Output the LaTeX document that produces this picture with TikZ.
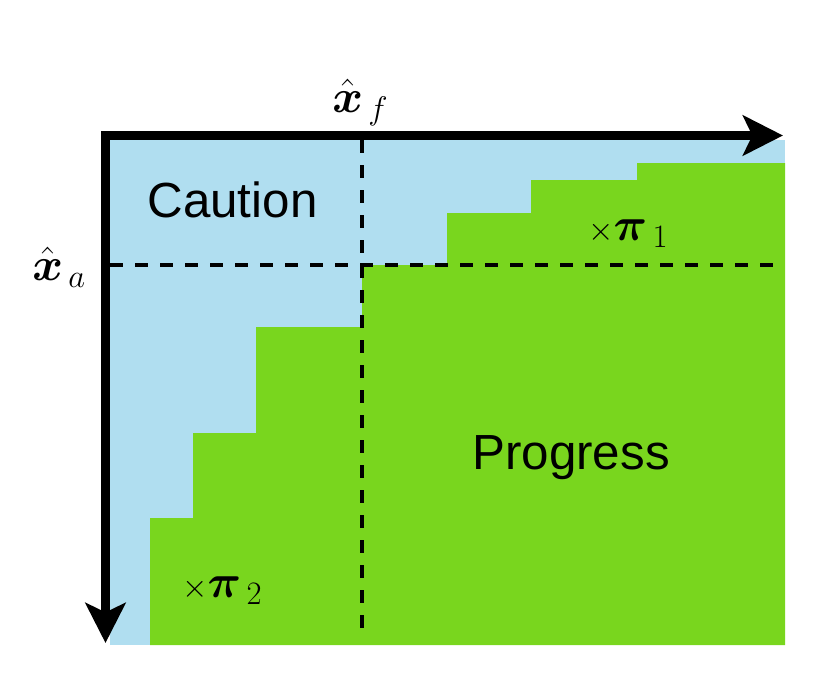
\documentclass[tikz,border=0pt]{standalone}
\usepackage{fix-cm}
\usepackage{amsmath}
\usepackage{amssymb}
\usepackage{fontspec}
\usepackage{tikz}
\usetikzlibrary{arrows.meta}
\newfontfamily\cpsans{Liberation Sans}
\definecolor{cpsky}  {HTML}{B0DEF0}
\definecolor{cpgrass}{HTML}{79D61E}
\newcommand{\cpbig}{\fontsize{37}{44}\selectfont}
\newcommand{\cpmathsize}{\fontsize{35}{42}\selectfont}
\tikzset{
  cptip/.style={Stealth[length=30pt, width=30pt, inset=7pt]},
  cpaxis/.style={line width=6.75pt, line join=miter, {Stealth[length=30pt, width=30pt, inset=7pt]}-{Stealth[length=30pt, width=30pt, inset=7pt]}},
  cpguide/.style={line width=3.6pt, dash pattern=on 9.75pt off 9pt},
  cpword/.style={font=\cpsans\cpbig, inner sep=0pt, anchor=base},
  cpmath/.style={font=\cpmathsize, inner sep=0pt, anchor=base west},
}

\begin{document}
\begin{tikzpicture}[x=0.75pt,y=-0.75pt]
  \useasboundingbox (0,0) rectangle (814,679);
  % caution and progress regions
  \fill[cpsky] (110,140) rectangle (785,645);
  \fill[cpgrass] (150,645) |- (193,518) |- (256,433) |- (362,327) |- (447,265)
    |- (531,213) |- (637,180) |- (785,163) -- (785,645) -- cycle;

  % thresholds
  \coordinate (fcut) at (362,140);
  \coordinate (fend) at (362,634);
  \coordinate (acut) at (110,265);
  \coordinate (aend) at (781,265);
  \draw[cpguide] (fcut) -- (fend);
  \draw[cpguide] (acut) -- (aend);

  % axes
  \coordinate (origin) at (105.5,135.5);
  \coordinate (xtip) at (783,135.5);
  \coordinate (ytip) at (105.5,643);
  \draw[cpaxis] (xtip) -- (origin) -- (ytip);

  \node[cpword] (caution) at (232.5,217) {Caution};
  \node[cpword] (progress) at (571,469) {Progress};
  \node[cpmath] (xf) at (332,112) {$\hat{\boldsymbol{x}}_{\,f}$};
  \node[cpmath] (xa) at (32,280) {$\hat{\boldsymbol{x}}_{\,a}$};
  \node[cpmath] (pione) at (588,240) {${\scriptstyle\times}\boldsymbol{\pi}_{\,1}$};
  \node[cpmath] (pitwo) at (182,597) {${\scriptstyle\times}\boldsymbol{\pi}_{\,2}$};
\end{tikzpicture}
\end{document}
